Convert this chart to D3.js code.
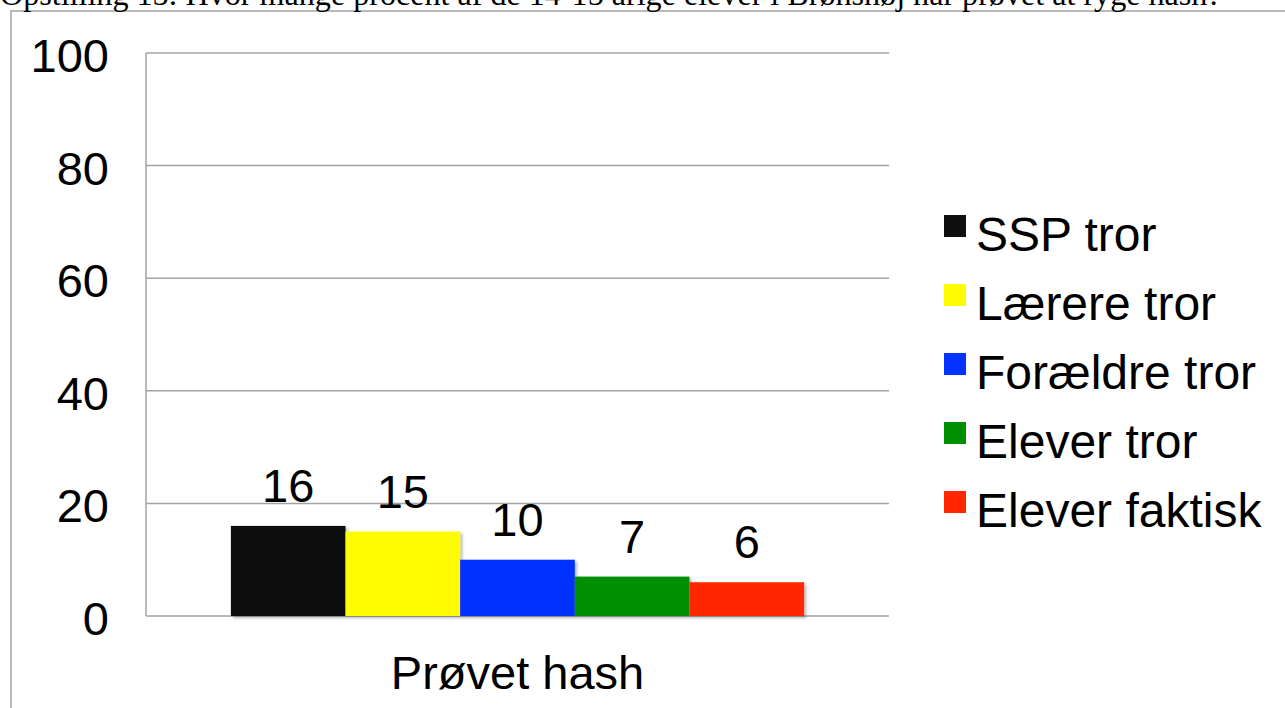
<!DOCTYPE html>
<html>
<head>
<meta charset="utf-8">
<script src="https://cdn.jsdelivr.net/npm/d3@7"></script>
<style>
  html, body { margin: 0; padding: 0; background: #fff; overflow: hidden; }
</style>
</head>
<body>
<div id="chart"></div>
<script>
// Data
const title = "Opstilling 15: Hvor mange procent af de 14-15 årige elever i Brønshøj har prøvet at ryge hash?";
const categories = ["Prøvet hash"];
const seriesNames = ["SSP tror", "Lærere tror", "Forældre tror", "Elever tror", "Elever faktisk"];
const seriesValues = [16, 15, 10, 7, 6];
const seriesColors = ["#0f0f0f", "#fffb00", "#0433ff", "#008f00", "#ff2600"];
const yTicks = [0, 20, 40, 60, 80, 100];

const W = 1285, H = 708;
const plot = { left: 146, right: 889, top: 53, bottom: 616 };

const svg = d3.select("#chart")
    .append("svg")
    .attr("width", W)
    .attr("height", H);

// soft shadow under the bars
const defs = svg.append("defs");
defs.append("filter")
    .attr("id", "shadow")
    .attr("x", "-10%").attr("y", "-10%")
    .attr("width", "130%").attr("height", "130%")
    .append("feDropShadow")
    .attr("dx", 2).attr("dy", 2)
    .attr("stdDeviation", 1.5)
    .attr("flood-color", "#000")
    .attr("flood-opacity", 0.3);

// frame around the chart (runs off the page right and bottom)
svg.append("rect")
    .attr("x", 11).attr("y", 11)
    .attr("width", W + 20).attr("height", H + 20)
    .attr("fill", "none")
    .attr("stroke", "#a3a3a3")
    .attr("stroke-width", 1.5);

// title, cut off at the top like the original
const t = svg.append("text")
    .attr("x", 0).attr("y", 5)
    .style("font-family", "'Liberation Serif', 'Times New Roman', serif")
    .style("font-size", "28px")
    .attr("fill", "#000")
    .text(title);
const tLen = t.node().getComputedTextLength();
t.style("font-size", (28 * 1222 / tLen) + "px");

// scales
const x0 = d3.scaleBand()
    .domain(categories)
    .range([plot.left, plot.right])
    .padding(0.129);

const x1 = d3.scaleBand()
    .domain(seriesNames)
    .range([0, x0.bandwidth()])
    .padding(0);

const y = d3.scaleLinear()
    .domain([0, 100])
    .range([plot.bottom, plot.top]);

// gridlines
svg.append("g")
    .selectAll("line")
    .data(yTicks)
    .enter()
    .append("line")
    .attr("x1", plot.left)
    .attr("x2", plot.right)
    .attr("y1", d => y(d))
    .attr("y2", d => y(d))
    .attr("stroke", "#a3a3a3")
    .attr("stroke-width", 1.5);

// y axis line
svg.append("line")
    .attr("x1", plot.left).attr("x2", plot.left)
    .attr("y1", y(100)).attr("y2", y(0))
    .attr("stroke", "#a3a3a3")
    .attr("stroke-width", 1.5);

const sans = "'Liberation Sans', Arial, Helvetica, sans-serif";

// y tick labels
svg.append("g")
    .selectAll("text")
    .data(yTicks)
    .enter()
    .append("text")
    .attr("x", 109)
    .attr("y", d => y(d) + 19)
    .attr("text-anchor", "end")
    .style("font-family", sans)
    .style("font-size", "47px")
    .attr("fill", "#000")
    .text(d => d);

// bars
const bars = seriesNames.map((name, i) => ({ cat: categories[0], name, value: seriesValues[i], color: seriesColors[i] }));

svg.append("g")
    .attr("filter", "url(#shadow)")
    .selectAll("rect")
    .data(bars)
    .enter()
    .append("rect")
    .attr("x", d => x0(d.cat) + x1(d.name))
    .attr("y", d => y(d.value))
    .attr("width", x1.bandwidth())
    .attr("height", d => y(0) - y(d.value))
    .attr("fill", d => d.color);

// value labels
svg.append("g")
    .selectAll("text")
    .data(bars)
    .enter()
    .append("text")
    .attr("x", d => x0(d.cat) + x1(d.name) + x1.bandwidth() / 2)
    .attr("y", d => y(d.value) - 24)
    .attr("text-anchor", "middle")
    .style("font-family", sans)
    .style("font-size", "47px")
    .attr("fill", "#000")
    .text(d => d.value);

// category label
svg.append("g")
    .selectAll("text")
    .data(categories)
    .enter()
    .append("text")
    .attr("x", d => x0(d) + x0.bandwidth() / 2)
    .attr("y", 689)
    .attr("text-anchor", "middle")
    .style("font-family", sans)
    .style("font-size", "47px")
    .attr("fill", "#000")
    .text(d => d);

// legend
const legend = svg.append("g")
    .selectAll("g")
    .data(seriesNames)
    .enter()
    .append("g")
    .attr("transform", (d, i) => `translate(944, ${215 + i * 69})`);

legend.append("rect")
    .attr("width", 22)
    .attr("height", 22)
    .attr("fill", (d, i) => seriesColors[i]);

legend.append("text")
    .attr("x", 32)
    .attr("y", 36)
    .style("font-family", sans)
    .style("font-size", "48px")
    .attr("fill", "#000")
    .text(d => d);
</script>
</body>
</html>
